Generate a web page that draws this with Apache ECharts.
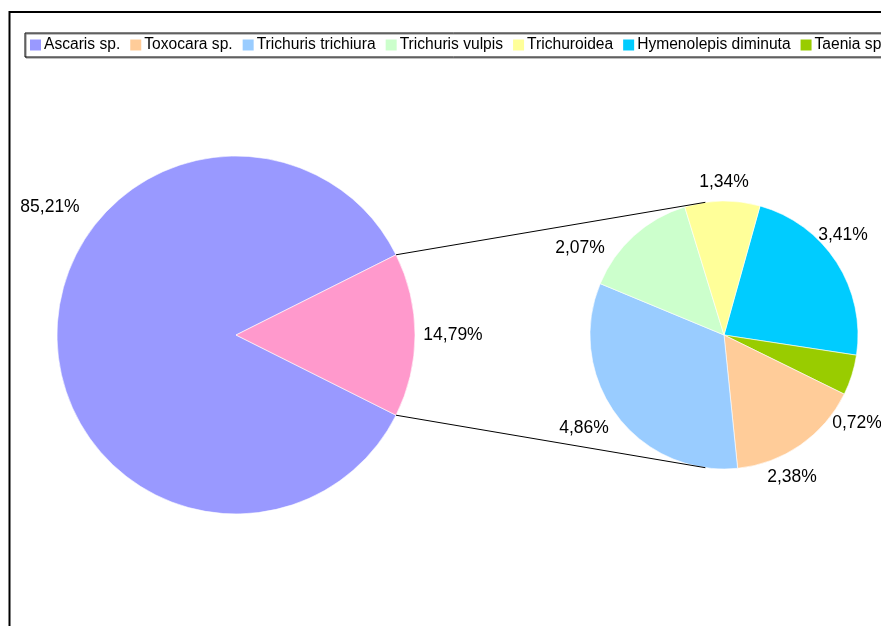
<!DOCTYPE html>
<html>
<head>
<meta charset="utf-8">
<script src="https://cdn.jsdelivr.net/npm/echarts@6/dist/echarts.min.js"></script>
<style>
  html, body { margin: 0; padding: 0; background: #fff; }
  #chart { width: 881px; height: 626px; }
</style>
</head>
<body>
<div id="chart"></div>
<script>
// Legend entries, in display order
const legendNames = ['Ascaris sp.', 'Toxocara sp.', 'Trichuris trichiura', 'Trichuris vulpis',
                     'Trichuroidea', 'Hymenolepis diminuta', 'Taenia sp.'];

// Main pie: Ascaris vs. the remaining species (split out in the second pie)
const mainNames = ['Ascaris sp.', 'Pozostałe'];
const mainValues = [85.21, 14.79];

// Second pie, clockwise from the top
const detailNames = ['Hymenolepis diminuta', 'Taenia sp.', 'Toxocara sp.',
                     'Trichuris trichiura', 'Trichuris vulpis', 'Trichuroidea'];
const detailValues = [3.41, 0.72, 2.38, 4.86, 2.07, 1.34];

const colors = {
  'Ascaris sp.': '#9999FF',
  'Pozostałe': '#FF99CC',
  'Toxocara sp.': '#FFCC99',
  'Trichuris trichiura': '#99CCFF',
  'Trichuris vulpis': '#CCFFCC',
  'Trichuroidea': '#FFFF99',
  'Hymenolepis diminuta': '#00CCFF',
  'Taenia sp.': '#99CC00'
};

// Layout
const main = { cx: 236, cy: 335, r: 179 };
const detail = { cx: 724, cy: 335, r: 134, startAngle: 74.4 };
const mainLabelOffsets = [[-186, -128], [217, 0]];
const detailLabelOffsets = [[119, -100], [133, 88], [68, 142], [-140, 93], [-144, -87], [0, -153]];
const fontFamily = '"Liberation Sans", Arial, sans-serif';

const fmt = p => p.value.toFixed(2).replace('.', ',') + '%';

function placer(center, offsets) {
  return function (params) {
    const o = offsets[params.dataIndex];
    return { x: center.cx + o[0], y: center.cy + o[1], align: 'center', verticalAlign: 'middle' };
  };
}

// The split-out slice is centred on 3 o'clock
const otherShare = mainValues[1] / (mainValues[0] + mainValues[1]);
const halfAngle = otherShare * Math.PI;
const mainStart = -otherShare * 180;

// Connector lines from the split slice edges to the second pie
const tilt = 8 * Math.PI / 180;
const p1 = [main.cx + main.r * Math.cos(halfAngle), main.cy - main.r * Math.sin(halfAngle)];
const p2 = [main.cx + main.r * Math.cos(halfAngle), main.cy + main.r * Math.sin(halfAngle)];
const q1 = [detail.cx - detail.r * Math.sin(tilt), detail.cy - detail.r * Math.cos(tilt)];
const q2 = [detail.cx - detail.r * Math.sin(tilt), detail.cy + detail.r * Math.cos(tilt)];

const labelStyle = {
  show: true,
  position: 'outside',
  formatter: fmt,
  color: '#000',
  fontFamily: fontFamily,
  fontSize: 17.5
};

const chart = echarts.init(document.getElementById('chart'), null, { renderer: 'canvas' });
chart.setOption({
  backgroundColor: '#fff',
  animation: false,
  legend: {
    data: legendNames,
    left: 25,
    top: 33,
    width: 3000,
    orient: 'horizontal',
    icon: 'rect',
    itemWidth: 11,
    itemHeight: 11,
    itemGap: 10,
    padding: [3, 5, 3, 5],
    borderColor: '#000',
    borderWidth: 1,
    shadowColor: '#808080',
    shadowOffsetX: 1,
    shadowOffsetY: 1,
    shadowBlur: 0,
    selectedMode: false,
    itemStyle: { borderWidth: 0 },
    textStyle: { color: '#000', fontFamily: fontFamily, fontSize: 15.6, lineHeight: 18, padding: [0, 0, 0, -2] }
  },
  graphic: [
    {
      type: 'rect',
      shape: { x: 9.5, y: 12, width: 2000, height: 2000 },
      style: { fill: null, stroke: '#000', lineWidth: 2 },
      z: 0, silent: true
    },
    {
      type: 'line',
      shape: { x1: p1[0], y1: p1[1], x2: q1[0], y2: q1[1] },
      style: { stroke: '#000', lineWidth: 1 },
      z: 10, silent: true
    },
    {
      type: 'line',
      shape: { x1: p2[0], y1: p2[1], x2: q2[0], y2: q2[1] },
      style: { stroke: '#000', lineWidth: 1 },
      z: 10, silent: true
    }
  ],
  series: [
    {
      type: 'pie',
      center: [main.cx, main.cy],
      radius: [0, main.r],
      startAngle: mainStart,
      clockwise: true,
      avoidLabelOverlap: false,
      silent: true,
      label: labelStyle,
      labelLine: { show: false },
      labelLayout: placer(main, mainLabelOffsets),
      itemStyle: { borderColor: '#fff', borderWidth: 0.6 },
      data: mainNames.map((n, i) => ({ name: n, value: mainValues[i], itemStyle: { color: colors[n] } }))
    },
    {
      type: 'pie',
      center: [detail.cx, detail.cy],
      radius: [0, detail.r],
      startAngle: detail.startAngle,
      clockwise: true,
      avoidLabelOverlap: false,
      silent: true,
      label: labelStyle,
      labelLine: { show: false },
      labelLayout: placer(detail, detailLabelOffsets),
      itemStyle: { borderColor: '#fff', borderWidth: 0.6 },
      data: detailNames.map((n, i) => ({ name: n, value: detailValues[i], itemStyle: { color: colors[n] } }))
    }
  ]
});
</script>
</body>
</html>
